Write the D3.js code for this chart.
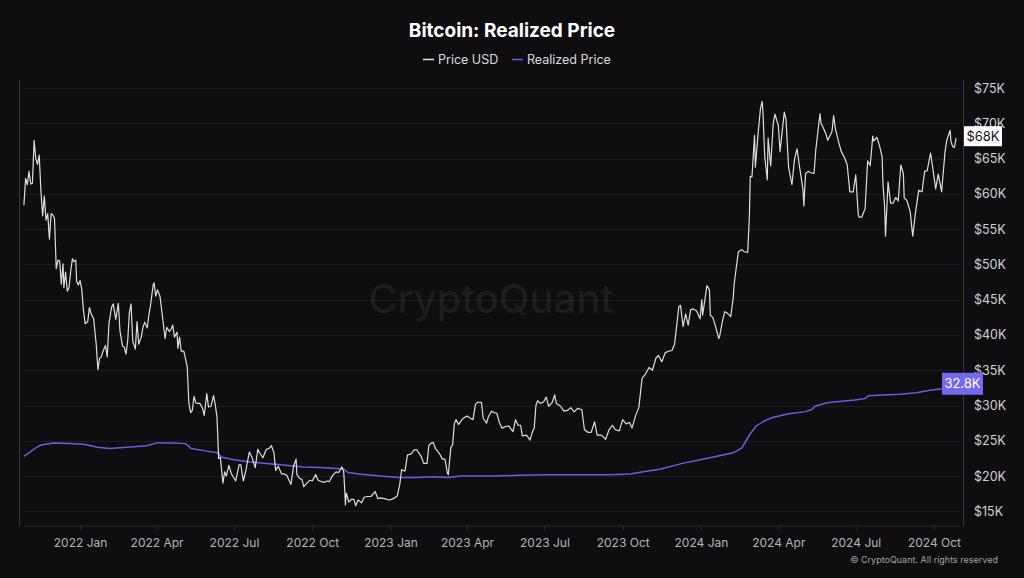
<!DOCTYPE html>
<html>
<head>
<meta charset="utf-8">
<script src="https://cdn.jsdelivr.net/npm/d3@7"></script>
<style>
  html, body { margin: 0; padding: 0; background: #0e0e11; }
  svg { display: block; font-family: Inter, "Noto Sans", sans-serif; }
</style>
</head>
<body>
<svg id="chart" width="1024" height="578"></svg>
<script>
const chartTitle = "Bitcoin: Realized Price";
const seriesNames = ["Price USD", "Realized Price"];
const yTicks = [15, 20, 25, 30, 35, 40, 45, 50, 55, 60, 65, 70, 75]; // $K
const xDomain = ["2021-10-23", "2024-11-02"];

// BTC price, $K
const priceUSD = [
  ["2021-10-27",58.4],["2021-10-29",62.2],["2021-10-31",61.3],["2021-11-02",63.2],["2021-11-04",61.4],
  ["2021-11-06",61.5],["2021-11-08",67.6],["2021-11-10",65.0],["2021-11-12",64.2],["2021-11-14",65.5],
  ["2021-11-16",60.4],["2021-11-18",56.9],["2021-11-20",59.7],["2021-11-22",56.3],["2021-11-24",57.2],
  ["2021-11-26",53.6],["2021-11-28",57.2],["2021-11-30",57.0],["2021-12-02",56.5],["2021-12-04",49.4],
  ["2021-12-06",50.6],["2021-12-08",50.5],["2021-12-10",47.2],["2021-12-12",50.1],["2021-12-13",46.7],
  ["2021-12-15",48.9],["2021-12-17",46.2],["2021-12-19",46.7],["2021-12-21",49.0],["2021-12-23",50.8],
  ["2021-12-25",50.4],["2021-12-27",50.6],["2021-12-28",47.6],["2021-12-30",47.1],["2022-01-01",47.7],
  ["2022-01-03",46.5],["2022-01-05",43.5],["2022-01-07",41.6],["2022-01-10",41.9],["2022-01-12",43.9],
  ["2022-01-14",43.0],["2022-01-17",42.3],["2022-01-20",38.7],["2022-01-22",35.1],["2022-01-24",36.7],
  ["2022-01-26",36.9],["2022-01-28",37.7],["2022-01-31",38.5],["2022-02-02",36.9],["2022-02-04",41.6],
  ["2022-02-07",43.9],["2022-02-09",44.4],["2022-02-12",42.2],["2022-02-15",44.5],["2022-02-17",40.5],
  ["2022-02-20",38.4],["2022-02-22",38.3],["2022-02-24",37.3],["2022-02-26",39.1],["2022-02-28",43.2],
  ["2022-03-02",44.4],["2022-03-04",39.1],["2022-03-07",38.0],["2022-03-09",41.9],["2022-03-11",38.7],
  ["2022-03-14",39.7],["2022-03-16",41.1],["2022-03-18",41.8],["2022-03-21",41.0],["2022-03-23",42.9],
  ["2022-03-25",44.3],["2022-03-28",47.1],["2022-03-29",47.4],["2022-03-31",45.5],["2022-04-02",46.4],
  ["2022-04-05",45.5],["2022-04-07",43.5],["2022-04-11",39.5],["2022-04-13",41.1],["2022-04-16",40.5],
  ["2022-04-18",40.8],["2022-04-20",41.4],["2022-04-22",39.7],["2022-04-25",40.4],["2022-04-26",38.1],
  ["2022-04-28",39.7],["2022-04-30",37.7],["2022-05-03",37.7],["2022-05-05",36.6],["2022-05-07",35.5],
  ["2022-05-09",30.3],["2022-05-11",29.0],["2022-05-13",29.3],["2022-05-15",31.3],["2022-05-17",30.4],
  ["2022-05-19",30.3],["2022-05-22",30.3],["2022-05-25",29.6],["2022-05-27",28.6],["2022-05-30",31.7],
  ["2022-06-01",29.8],["2022-06-04",29.9],["2022-06-07",31.4],["2022-06-09",30.1],["2022-06-11",28.4],
  ["2022-06-13",22.5],["2022-06-15",22.6],["2022-06-18",19.0],["2022-06-20",20.6],["2022-06-22",20.0],
  ["2022-06-25",21.5],["2022-06-28",20.3],["2022-06-30",19.9],["2022-07-03",19.3],["2022-07-07",21.6],
  ["2022-07-09",21.6],["2022-07-12",19.3],["2022-07-15",20.8],["2022-07-19",23.4],["2022-07-22",22.7],
  ["2022-07-26",21.2],["2022-07-29",23.8],["2022-07-31",23.3],["2022-08-04",22.6],["2022-08-08",23.8],
  ["2022-08-11",23.9],["2022-08-14",24.3],["2022-08-17",23.3],["2022-08-19",20.8],["2022-08-22",21.4],
  ["2022-08-26",20.3],["2022-08-29",20.3],["2022-09-01",20.1],["2022-09-06",18.8],["2022-09-09",21.4],
  ["2022-09-12",22.4],["2022-09-13",20.2],["2022-09-16",19.7],["2022-09-19",19.5],["2022-09-21",18.5],
  ["2022-09-24",18.9],["2022-09-28",19.4],["2022-10-01",19.3],["2022-10-05",20.2],["2022-10-08",19.4],
  ["2022-10-12",19.2],["2022-10-15",19.1],["2022-10-18",19.3],["2022-10-21",19.2],["2022-10-25",20.1],
  ["2022-10-29",20.6],["2022-11-01",20.5],["2022-11-05",21.3],["2022-11-07",20.6],["2022-11-08",18.5],
  ["2022-11-09",15.9],["2022-11-10",17.6],["2022-11-13",16.3],["2022-11-16",16.7],["2022-11-19",16.7],
  ["2022-11-21",15.8],["2022-11-24",16.6],["2022-11-28",16.2],["2022-12-01",17.0],["2022-12-05",17.1],
  ["2022-12-09",17.1],["2022-12-14",17.8],["2022-12-17",16.8],["2022-12-20",16.9],["2022-12-25",16.8],
  ["2022-12-30",16.6],["2023-01-02",16.7],["2023-01-06",16.9],["2023-01-09",17.2],["2023-01-12",18.9],
  ["2023-01-14",20.9],["2023-01-18",20.7],["2023-01-21",23.0],["2023-01-25",23.1],["2023-01-29",23.7],
  ["2023-02-01",23.7],["2023-02-06",22.8],["2023-02-09",21.8],["2023-02-13",21.8],["2023-02-15",24.3],
  ["2023-02-17",24.6],["2023-02-20",24.8],["2023-02-23",23.9],["2023-02-28",23.1],["2023-03-03",22.4],
  ["2023-03-06",22.4],["2023-03-09",20.4],["2023-03-10",20.2],["2023-03-13",24.1],["2023-03-15",24.4],
  ["2023-03-17",27.4],["2023-03-19",28.0],["2023-03-22",27.3],["2023-03-26",28.0],["2023-03-29",28.3],
  ["2023-04-01",28.5],["2023-04-05",28.2],["2023-04-08",28.0],["2023-04-11",30.2],["2023-04-14",30.5],
  ["2023-04-18",30.4],["2023-04-20",28.2],["2023-04-24",27.5],["2023-04-26",28.4],["2023-04-30",29.2],
  ["2023-05-03",29.0],["2023-05-06",28.9],["2023-05-09",27.6],["2023-05-12",26.8],["2023-05-16",27.0],
  ["2023-05-20",27.1],["2023-05-25",26.3],["2023-05-28",28.0],["2023-05-31",27.2],["2023-06-03",27.2],
  ["2023-06-05",25.7],["2023-06-10",25.8],["2023-06-14",25.1],["2023-06-17",26.3],["2023-06-19",26.8],
  ["2023-06-21",30.0],["2023-06-23",30.7],["2023-06-26",30.3],["2023-06-30",30.5],["2023-07-03",31.2],
  ["2023-07-06",29.9],["2023-07-10",30.4],["2023-07-13",31.5],["2023-07-15",30.3],["2023-07-20",29.9],
  ["2023-07-24",29.2],["2023-07-28",29.3],["2023-08-01",29.7],["2023-08-05",29.1],["2023-08-09",29.6],
  ["2023-08-14",29.4],["2023-08-17",26.6],["2023-08-21",26.2],["2023-08-25",26.2],["2023-08-29",27.7],
  ["2023-09-01",25.8],["2023-09-06",25.8],["2023-09-11",25.2],["2023-09-15",26.6],["2023-09-19",27.2],
  ["2023-09-22",26.6],["2023-09-27",26.4],["2023-10-01",28.0],["2023-10-05",27.4],["2023-10-09",27.6],
  ["2023-10-12",26.8],["2023-10-16",28.5],["2023-10-20",29.7],["2023-10-23",33.0],["2023-10-24",33.9],
  ["2023-10-28",34.5],["2023-11-01",35.4],["2023-11-05",35.0],["2023-11-09",36.7],["2023-11-12",37.1],
  ["2023-11-16",36.2],["2023-11-20",37.5],["2023-11-24",37.7],["2023-11-28",37.8],["2023-12-01",38.7],
  ["2023-12-04",41.9],["2023-12-06",44.0],["2023-12-08",44.2],["2023-12-11",41.2],["2023-12-14",43.0],
  ["2023-12-17",41.4],["2023-12-20",43.6],["2023-12-23",43.7],["2023-12-27",43.4],["2023-12-31",42.3],
  ["2024-01-02",45.0],["2024-01-03",42.8],["2024-01-08",47.0],["2024-01-11",46.4],["2024-01-12",42.8],
  ["2024-01-15",42.5],["2024-01-18",41.3],["2024-01-22",39.5],["2024-01-23",39.8],["2024-01-26",41.8],
  ["2024-01-29",43.3],["2024-02-01",43.1],["2024-02-05",42.6],["2024-02-08",45.3],["2024-02-09",47.1],
  ["2024-02-12",50.0],["2024-02-14",51.8],["2024-02-18",52.1],["2024-02-21",51.8],["2024-02-25",51.7],
  ["2024-02-27",57.0],["2024-02-28",62.5],["2024-03-01",62.4],["2024-03-04",68.3],["2024-03-05",63.8],
  ["2024-03-08",68.3],["2024-03-11",72.1],["2024-03-13",73.1],["2024-03-14",71.4],["2024-03-16",65.3],
  ["2024-03-19",62.0],["2024-03-20",67.9],["2024-03-23",64.0],["2024-03-26",70.0],["2024-03-28",71.3],
  ["2024-04-01",69.7],["2024-04-03",66.0],["2024-04-08",71.6],["2024-04-10",70.6],["2024-04-13",63.8],
  ["2024-04-17",61.3],["2024-04-20",64.9],["2024-04-23",66.4],["2024-04-26",63.8],["2024-04-30",60.6],
  ["2024-05-01",58.3],["2024-05-03",62.9],["2024-05-06",63.2],["2024-05-09",63.0],["2024-05-13",62.9],
  ["2024-05-15",66.2],["2024-05-20",71.4],["2024-05-21",70.1],["2024-05-24",69.3],["2024-05-27",68.5],
  ["2024-05-29",67.6],["2024-06-03",68.8],["2024-06-05",71.1],["2024-06-07",69.3],["2024-06-11",67.3],
  ["2024-06-14",66.0],["2024-06-18",65.1],["2024-06-21",64.1],["2024-06-24",60.3],["2024-06-28",60.3],
  ["2024-07-01",62.7],["2024-07-04",57.0],["2024-07-05",56.7],["2024-07-08",56.7],["2024-07-12",57.9],
  ["2024-07-15",64.7],["2024-07-18",64.0],["2024-07-21",68.2],["2024-07-22",67.5],["2024-07-26",68.0],
  ["2024-07-29",66.8],["2024-08-01",65.3],["2024-08-02",61.4],["2024-08-04",58.1],["2024-08-05",54.0],
  ["2024-08-08",61.7],["2024-08-11",58.7],["2024-08-14",58.7],["2024-08-17",59.5],["2024-08-20",59.0],
  ["2024-08-23",64.1],["2024-08-26",62.9],["2024-08-27",59.4],["2024-08-30",59.1],["2024-09-03",57.5],
  ["2024-09-06",54.0],["2024-09-09",57.1],["2024-09-13",60.5],["2024-09-17",60.3],["2024-09-20",63.2],
  ["2024-09-23",63.3],["2024-09-27",65.8],["2024-09-30",63.3],["2024-10-03",60.7],["2024-10-06",62.8],
  ["2024-10-10",60.3],["2024-10-14",66.0],["2024-10-16",67.6],["2024-10-20",69.0],["2024-10-21",67.4],
  ["2024-10-23",66.7],["2024-10-25",66.6],["2024-10-27",67.9]
];

// Realized price, $K
const realizedPrice = [
  ["2021-10-27",22.8],["2021-11-03",23.4],["2021-11-10",24.0],["2021-11-16",24.4],["2021-12-01",24.7],
  ["2021-12-20",24.6],["2022-01-05",24.5],["2022-01-22",24.1],["2022-02-05",23.9],["2022-02-25",24.1],
  ["2022-03-20",24.3],["2022-04-01",24.7],["2022-04-20",24.7],["2022-05-05",24.6],["2022-05-12",23.9],
  ["2022-06-01",23.5],["2022-06-12",23.3],["2022-06-16",22.7],["2022-07-01",22.3],["2022-07-20",22.0],
  ["2022-08-05",21.8],["2022-08-25",21.6],["2022-09-20",21.3],["2022-10-10",21.2],["2022-11-07",21.0],
  ["2022-11-12",20.5],["2022-11-25",20.3],["2022-12-20",20.0],["2023-01-10",19.8],["2023-02-01",19.8],
  ["2023-02-20",19.9],["2023-03-10",19.8],["2023-03-25",20.0],["2023-05-01",20.0],["2023-06-01",20.1],
  ["2023-07-01",20.2],["2023-08-15",20.2],["2023-09-15",20.2],["2023-10-10",20.3],["2023-10-25",20.6],
  ["2023-11-15",21.0],["2023-12-10",21.8],["2023-12-31",22.3],["2024-01-20",22.8],["2024-02-08",23.3],
  ["2024-02-18",24.0],["2024-02-28",26.0],["2024-03-06",27.1],["2024-03-15",27.8],["2024-03-25",28.3],
  ["2024-04-12",28.8],["2024-05-01",29.1],["2024-05-10",29.4],["2024-05-14",29.9],["2024-05-28",30.4],
  ["2024-06-15",30.6],["2024-06-30",30.8],["2024-07-12",31.0],["2024-07-16",31.4],["2024-08-01",31.5],
  ["2024-08-22",31.6],["2024-09-10",31.8],["2024-09-28",32.2],["2024-10-15",32.4],["2024-10-27",32.8]
];

const parse = d3.utcParse("%Y-%m-%d");
const price = priceUSD.map(d => ({ date: parse(d[0]), value: d[1] }));
const realized = realizedPrice.map(d => ({ date: parse(d[0]), value: d[1] }));

const svg = d3.select("#chart");
const plotLeft = 24, plotRight = 960, plotTop = 80, plotBottom = 526;

const x = d3.scaleUtc()
  .domain(xDomain.map(parse))
  .range([20.5, 961.2]);

const y = d3.scaleLinear()
  .domain([12.92, 76.15])
  .range([plotBottom, plotTop]);

// gridlines
svg.append("g")
  .selectAll("line")
  .data(yTicks)
  .enter().append("line")
  .attr("x1", plotLeft).attr("x2", plotRight)
  .attr("y1", d => Math.round(y(d)) + 0.5)
  .attr("y2", d => Math.round(y(d)) + 0.5)
  .attr("stroke", "#1d1d21");

// frame lines left / right
svg.append("line")
  .attr("x1", 19.5).attr("x2", 19.5).attr("y1", plotTop).attr("y2", plotBottom)
  .attr("stroke", "#37373c");
svg.append("line")
  .attr("x1", 963.5).attr("x2", 963.5).attr("y1", plotTop).attr("y2", plotBottom)
  .attr("stroke", "#37373c");

// watermark
svg.append("text")
  .attr("x", 491).attr("y", 313)
  .attr("text-anchor", "middle")
  .style("font-size", "40px")
  .style("font-weight", "500")
  .style("fill", "#ffffff")
  .style("fill-opacity", 0.08)
  .text("CryptoQuant");

// x axis
const xAxis = d3.axisBottom(x)
  .ticks(d3.utcMonth.every(3))
  .tickFormat(d3.utcFormat("%Y %b"))
  .tickSize(5)
  .tickPadding(8);

const gx = svg.append("g")
  .attr("transform", "translate(0," + (plotBottom - 0.5) + ")")
  .call(xAxis);
gx.select(".domain").attr("d", "M" + plotLeft + ",0.5H" + plotRight).attr("stroke", "#28282d");
gx.selectAll(".tick line").attr("stroke", "#2e2e33");
gx.selectAll(".tick text")
  .style("font-family", "Inter, sans-serif")
  .style("font-size", "12px")
  .style("fill", "#b4b4b8");

// y axis labels (right side)
const yAxis = d3.axisRight(y)
  .tickValues(yTicks)
  .tickFormat(d => "$" + d + "K")
  .tickSize(0)
  .tickPadding(10);
const gy = svg.append("g")
  .attr("transform", "translate(964,0)")
  .call(yAxis);
gy.select(".domain").remove();
gy.selectAll(".tick text")
  .style("font-family", "Inter, sans-serif")
  .style("font-size", "12.5px")
  .style("fill", "#d2d2d6");

// lines
const line = d3.line()
  .x(d => x(d.date))
  .y(d => y(d.value));

svg.append("path")
  .datum(realized)
  .attr("fill", "none")
  .attr("stroke", "#6660dc")
  .attr("stroke-width", 1.5)
  .attr("d", line);

svg.append("path")
  .datum(price)
  .attr("fill", "none")
  .attr("stroke", "#dedee0")
  .attr("stroke-width", 1.2)
  .attr("stroke-linejoin", "round")
  .attr("d", line);

// title
svg.append("text")
  .attr("x", 512).attr("y", 37)
  .attr("text-anchor", "middle")
  .style("font-size", "19px")
  .style("font-weight", "700")
  .style("fill", "#ffffff")
  .text(chartTitle);

// legend
const legend = [
  { name: seriesNames[0], color: "#e4e4e6", x: 423 },
  { name: seriesNames[1], color: "#6660dc", x: 512 }
];
const lg = svg.append("g");
legend.forEach(l => {
  lg.append("line")
    .attr("x1", l.x).attr("x2", l.x + 11)
    .attr("y1", 59.5).attr("y2", 59.5)
    .attr("stroke", l.color).attr("stroke-width", 1.5);
  lg.append("text")
    .attr("x", l.x + 15).attr("y", 64)
    .style("font-size", "12.5px")
    .style("fill", "#dcdcdf")
    .text(l.name);
});

// last value labels
const lastPrice = price[price.length - 1];
const lastRealized = realized[realized.length - 1];

const pl = svg.append("g").attr("transform", "translate(964," + (y(lastPrice.value) - 2) + ")");
pl.append("rect")
  .attr("x", 0).attr("y", -10).attr("width", 38).attr("height", 20)
  .attr("fill", "#ffffff");
pl.append("text")
  .attr("x", 19).attr("y", 4.5)
  .attr("text-anchor", "middle")
  .style("font-size", "13px")
  .style("fill", "#111114")
  .text("$" + d3.format(".0f")(lastPrice.value) + "K");

const rl = svg.append("g").attr("transform", "translate(942," + (y(lastRealized.value) - 2) + ")");
rl.append("rect")
  .attr("x", 0).attr("y", -11).attr("width", 41).attr("height", 22)
  .attr("fill", "#7468ec");
rl.append("text")
  .attr("x", 20.5).attr("y", 4.5)
  .attr("text-anchor", "middle")
  .style("font-size", "13px")
  .style("fill", "#ffffff")
  .text(d3.format(".1f")(lastRealized.value) + "K");

// copyright
svg.append("text")
  .attr("x", 998).attr("y", 563)
  .attr("text-anchor", "end")
  .style("font-size", "9px")
  .style("fill", "#a3a3a7")
  .text("© CryptoQuant. All rights reserved");
</script>
</body>
</html>
